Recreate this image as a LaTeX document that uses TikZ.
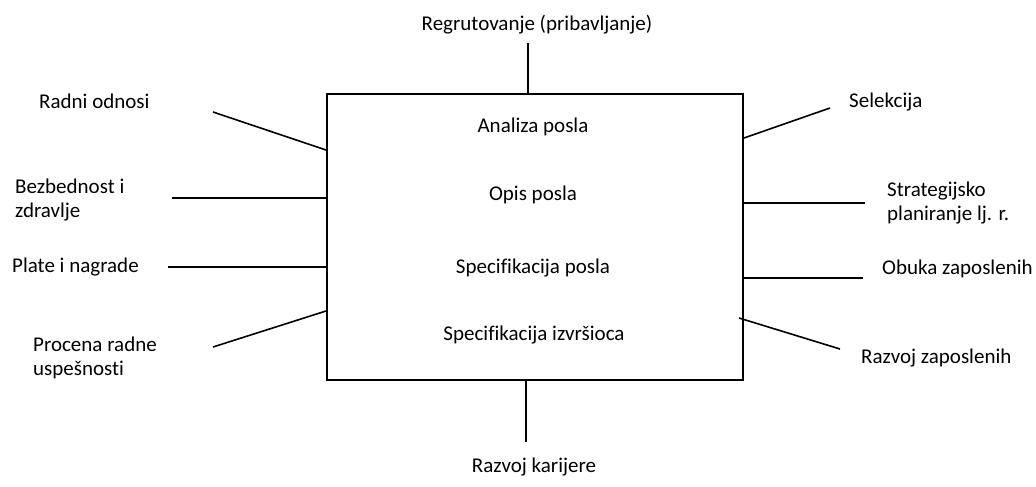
\documentclass[tikz,border=0pt]{standalone}
\usepackage{fontspec}
\setmainfont{Carlito}[Ligatures=NoCommon]
\begin{document}
\begin{tikzpicture}[x=1pt,y=-1pt,
  lbl/.style={inner sep=0pt, anchor=base west, align=left,
    font=\fontsize{21}{24}\selectfont},
  mid/.style={inner sep=0pt, anchor=base,
    font=\fontsize{21}{24}\selectfont},
  link/.style={line width=1.6pt},
  frame/.style={draw, line width=2pt, inner sep=0pt,
    minimum width=416pt, minimum height=286pt, anchor=north west}]
\useasboundingbox (0,0) rectangle (1036,487);

% central box and its contents
\node[frame] (box) at (326,93) {};
\node[mid] (analiza) at (533,132) {Analiza posla};
\node[mid] (opis) at (533,200) {Opis posla};
\node[mid] (specp) at (533,273) {Specifikacija posla};
\node[mid] (speci) at (534,340) {Specifikacija izvršioca};

% surrounding functions (two-line labels are placed by their last line)
\node[mid] (regr) at (537,31) {Regrutovanje (pribavljanje)};
\node[mid] (kar) at (534,472) {Razvoj karijere};
\node[lbl] (radni) at (39,108) {Radni odnosi};
\node[lbl] (bezb) at (15,217) {Bezbednost i\\zdravlje};
\node[lbl] (plate) at (12,272) {Plate i nagrade};
\node[lbl] (proc) at (33,375) {Procena radne\\uspešnosti};
\node[lbl] (sel) at (849,107) {Selekcija};
\node[lbl] (strat) at (887,220) {Strategijsko\\planiranje lj. r.};
\node[lbl] (obuka) at (882,274) {Obuka zaposlenih};
\node[lbl] (razz) at (861,363) {Razvoj zaposlenih};

% outer ends of the connectors
\coordinate (cRegr) at (528,43);
\coordinate (cKar) at (526,442);
\coordinate (cRadni) at (213,112);
\coordinate (cBezb) at (172,198);
\coordinate (cPlate) at (168,267);
\coordinate (cProc) at (213,347);
\coordinate (cSel) at (830,108);
\coordinate (cStrat) at (865,203);
\coordinate (cObuka) at (863,278);
\coordinate (cRazz) at (840,349);

% connectors to the box
\draw[link] (cRegr) -- (cRegr |- box.north);
\draw[link] (cKar) -- (cKar |- box.south);
\draw[link] (cRadni) -- (box.west |- 0,150);
\draw[link] (cBezb) -- (cBezb -| box.west);
\draw[link] (cPlate) -- (cPlate -| box.west);
\draw[link] (cProc) -- (box.west |- 0,311);
\draw[link] (cSel) -- (box.east |- 0,138);
\draw[link] (cStrat) -- (cStrat -| box.east);
\draw[link] (cObuka) -- (cObuka -| box.east);
\draw[link] (cRazz) -- (739,318);
\end{tikzpicture}
\end{document}
